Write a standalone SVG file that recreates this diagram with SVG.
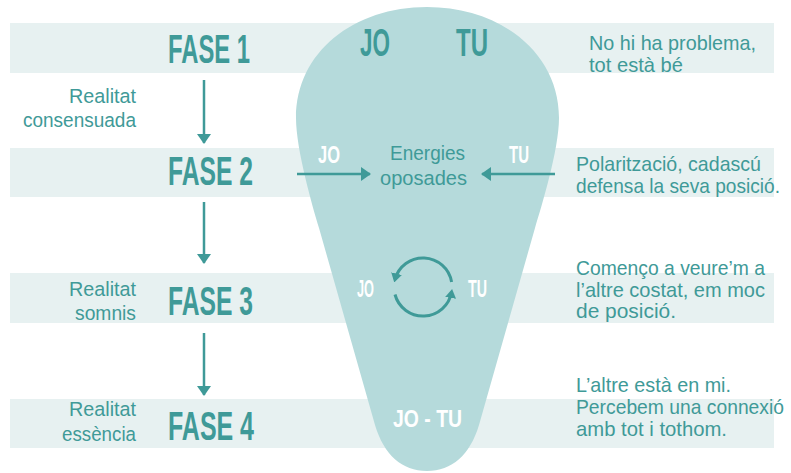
<svg xmlns="http://www.w3.org/2000/svg" width="791" height="473" viewBox="0 0 791 473">
<style>
.band{fill:#e7f1f1}
.shape{fill:#b5dadb}
.t{font-family:"Liberation Sans Narrow","Liberation Sans","DejaVu Sans Condensed",sans-serif;fill:#3f9a98}
.fase{font-size:40px;font-weight:bold}
.lbl{font-size:20.5px}
.desc{font-size:21px}
.big{font-size:38px;font-weight:bold}
.w{fill:#ffffff;font-size:23px;font-weight:bold}
.ln{stroke:#3f9a98;stroke-width:2.5;fill:none}
.cy{stroke:#3f9a98;stroke-width:3;fill:none}
</style>
<defs>
<marker id="ah" markerUnits="userSpaceOnUse" markerWidth="10" markerHeight="14" refX="9" refY="7" orient="auto" viewBox="0 0 10 14">
<path d="M0,0 L10,7 L0,14 z" fill="#3f9a98"/>
</marker>
<marker id="ahc" markerUnits="userSpaceOnUse" markerWidth="9" markerHeight="11" refX="6" refY="5.5" orient="auto" viewBox="0 0 9 11">
<path d="M0,0 L9,5.5 L0,11 z" fill="#3f9a98"/>
</marker>
</defs>
<rect width="791" height="473" fill="#ffffff"/>

<g id="bands">
<rect class="band" x="10" y="23" width="764" height="50"/>
<rect class="band" x="10" y="148" width="764" height="49"/>
<rect class="band" x="10" y="273" width="764" height="50"/>
<rect class="band" x="10" y="399" width="764" height="49"/>
</g>

<g id="jo-tu-shape">
<path class="shape" d="M427,7 C500,7 559,52 559,118 C559,150 541,208 535,228 L479,425 C470,455 452,471 427,471 C402,471 384,455 375,425 L319,228 C313,208 296,150 296,118 C296,52 354,7 427,7 Z"/>
</g>

<g id="fase1">
<text class="t fase" x="168" y="63" textLength="82" lengthAdjust="spacingAndGlyphs">FASE 1</text>
</g>
<g id="fase2">
<text class="t fase" x="168" y="185" textLength="85" lengthAdjust="spacingAndGlyphs">FASE 2</text>
</g>
<g id="fase3">
<text class="t fase" x="168" y="315" textLength="85" lengthAdjust="spacingAndGlyphs">FASE 3</text>
</g>
<g id="fase4">
<text class="t fase" x="168" y="440" textLength="86" lengthAdjust="spacingAndGlyphs">FASE 4</text>
</g>

<g id="realitat-consensuada">
<text class="t lbl" x="69" y="103" textLength="67" lengthAdjust="spacingAndGlyphs">Realitat</text>
<text class="t lbl" x="23" y="127" textLength="113" lengthAdjust="spacingAndGlyphs">consensuada</text>
</g>
<g id="realitat-somnis">
<text class="t lbl" x="69" y="296" textLength="67" lengthAdjust="spacingAndGlyphs">Realitat</text>
<text class="t lbl" x="75" y="320" textLength="61" lengthAdjust="spacingAndGlyphs">somnis</text>
</g>
<g id="realitat-essencia">
<text class="t lbl" x="69" y="416" textLength="67" lengthAdjust="spacingAndGlyphs">Realitat</text>
<text class="t lbl" x="62" y="441" textLength="74" lengthAdjust="spacingAndGlyphs">essència</text>
</g>

<g id="desc1">
<text class="t desc" x="589" y="50" textLength="167" lengthAdjust="spacingAndGlyphs">No hi ha problema,</text>
<text class="t desc" x="589" y="72" textLength="94" lengthAdjust="spacingAndGlyphs">tot està bé</text>
</g>
<g id="desc2">
<text class="t desc" x="576" y="171" textLength="185" lengthAdjust="spacingAndGlyphs">Polarització, cadascú</text>
<text class="t desc" x="576" y="193" textLength="204" lengthAdjust="spacingAndGlyphs">defensa la seva posició.</text>
</g>
<g id="desc3">
<text class="t desc" x="576" y="275" textLength="189" lengthAdjust="spacingAndGlyphs">Començo a veure’m a</text>
<text class="t desc" x="576" y="297" textLength="189" lengthAdjust="spacingAndGlyphs">l’altre costat, em moc</text>
<text class="t desc" x="576" y="318" textLength="100" lengthAdjust="spacingAndGlyphs">de posició.</text>
</g>
<g id="desc4">
<text class="t desc" x="576" y="392" textLength="155" lengthAdjust="spacingAndGlyphs">L’altre està en mi.</text>
<text class="t desc" x="576" y="414" textLength="208" lengthAdjust="spacingAndGlyphs">Percebem una connexió</text>
<text class="t desc" x="576" y="436" textLength="151" lengthAdjust="spacingAndGlyphs">amb tot i tothom.</text>
</g>

<g id="center-fase1">
<text class="t big" x="360" y="56" textLength="30" lengthAdjust="spacingAndGlyphs">JO</text>
<text class="t big" x="456" y="56" textLength="32" lengthAdjust="spacingAndGlyphs">TU</text>
</g>
<g id="center-fase2">
<text class="t w" x="318" y="163" textLength="22" lengthAdjust="spacingAndGlyphs">JO</text>
<text class="t w" x="509" y="163" textLength="20" lengthAdjust="spacingAndGlyphs">TU</text>
<text class="t lbl" x="390" y="160" textLength="75" lengthAdjust="spacingAndGlyphs">Energies</text>
<text class="t lbl" x="380" y="185" textLength="87" lengthAdjust="spacingAndGlyphs">oposades</text>
</g>
<g id="center-fase3">
<text class="t w" x="357" y="297" textLength="17" lengthAdjust="spacingAndGlyphs">JO</text>
<text class="t w" x="468" y="297" textLength="19" lengthAdjust="spacingAndGlyphs">TU</text>
</g>
<g id="center-fase4">
<text class="t w" x="393" y="427" textLength="69" lengthAdjust="spacingAndGlyphs">JO - TU</text>
</g>

<g id="connectors">
<line class="ln" x1="204" y1="80" x2="204" y2="143" marker-end="url(#ah)"/>
<line class="ln" x1="204" y1="202" x2="204" y2="263" marker-end="url(#ah)"/>
<line class="ln" x1="204" y1="333" x2="204" y2="395" marker-end="url(#ah)"/>
<line class="ln" x1="297" y1="174" x2="370" y2="174" marker-end="url(#ah)"/>
<line class="ln" x1="555" y1="174" x2="482" y2="174" marker-end="url(#ah)"/>
<path class="cy" d="M451.6,282 A29,29 0 0,0 395,279.5" marker-end="url(#ahc)"/>
<path class="cy" d="M395,294.5 A29,29 0 0,0 451.6,292" marker-end="url(#ahc)"/>
</g>
</svg>
